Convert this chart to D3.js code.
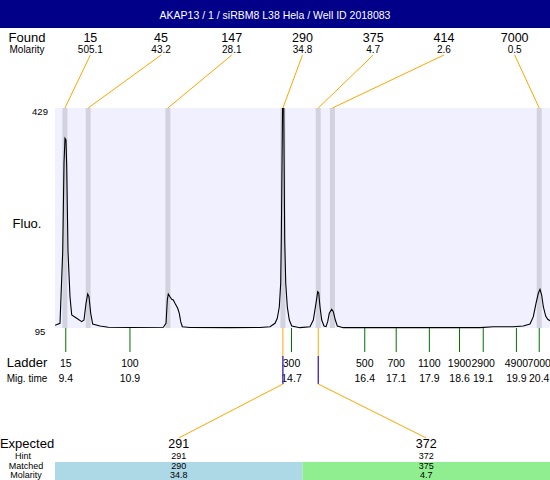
<!DOCTYPE html>
<html>
<head>
<meta charset="utf-8">
<script src="https://cdn.jsdelivr.net/npm/d3@7"></script>
<style>
  body { margin: 0; background: #fff; }
  svg { display: block; font-family: "Liberation Sans", Arial, sans-serif; }
</style>
</head>
<body>
<svg width="550" height="480"></svg>
<script>
var title = "AKAP13 / 1 / siRBM8 L38 Hela / Well ID 2018083";

// found peaks
var foundSize = [15, 45, 147, 290, 375, 414, 7000];
var foundMolarity = [505.1, 43.2, 28.1, 34.8, 4.7, 2.6, 0.5];
var foundTime = [9.40, 9.94, 11.79, 14.46, 15.28, 15.61, 20.41];

// ladder
var ladderSize = [15, 100, 300, 500, 700, 1100, 1900, 2900, 4900, 7000];
var ladderTime = [9.42, 10.91, 14.66, 16.36, 17.09, 17.86, 18.56, 19.11, 19.88, 20.41];

// expected / matched
var expectedSize = [291, 372];
var hintSize = [291, 372];
var matchedSize = [290, 375];
var matchedMolarity = [34.8, 4.7];

var fluoRange = [95, 429];
var timeRange = [9.17, 20.66];

// electropherogram trace (mig. time, fluorescence)
var traceTime = [9.170, 9.286, 9.349, 9.379, 9.402, 9.425, 9.442, 9.472, 9.518, 9.558,
  9.674, 9.790, 9.843, 9.890, 9.929, 9.959, 9.999, 10.045, 10.215, 10.407,
  10.911, 11.684, 11.747, 11.777, 11.800, 11.839, 11.879, 11.916, 11.955, 12.018,
  12.055, 12.088, 12.125, 12.304, 13.232, 13.929, 14.161, 14.277, 14.330, 14.377,
  14.409, 14.423, 14.439, 14.456, 14.477, 14.486, 14.502, 14.526, 14.562, 14.609,
  14.665, 14.857, 15.089, 15.166, 15.228, 15.268, 15.291, 15.321, 15.361, 15.414,
  15.461, 15.500, 15.537, 15.593, 15.630, 15.677, 15.723, 15.862, 17.643, 19.036,
  19.344, 19.808, 20.040, 20.196, 20.273, 20.335, 20.389, 20.428, 20.467, 20.505,
  20.560, 20.607, 20.660];
var traceFluo = [99.1, 102.1, 210.8, 345.5, 383.0, 380.4, 339.9, 210.8, 142.5, 114.7,
  109.7, 104.6, 107.1, 132.5, 146.6, 142.5, 117.3, 101.1, 98.0, 96.1,
  95.8, 96.1, 102.1, 137.5, 146.6, 142.5, 138.6, 137.5, 132.5, 124.9,
  117.3, 104.6, 97.0, 95.8, 95.5, 95.8, 97.0, 102.1, 109.7, 127.3,
  162.9, 228.6, 339.9, 456.3, 456.3, 370.2, 228.6, 162.9, 127.3, 107.1,
  98.0, 95.5, 97.0, 107.1, 132.5, 150.1, 148.6, 127.3, 107.1, 98.0,
  97.0, 104.6, 117.3, 123.4, 119.7, 107.1, 98.0, 95.5, 95.5, 95.5,
  97.0, 97.0, 98.0, 101.1, 112.2, 132.5, 147.7, 153.8, 145.1, 127.3,
  113.2, 108.2, 106.1];

var svg = d3.select("svg"),
    width = +svg.attr("width"),
    height = +svg.attr("height");

var plotLeft = 55, plotTop = 108, plotBottom = 328;
var labelX = 27;
var orange = "#ffa500";

var x = d3.scaleLinear().domain(timeRange).range([plotLeft, width]);
var y = d3.scaleLinear().domain(fluoRange).range([plotBottom, plotTop]);
var col = d3.scaleBand().domain(d3.range(foundSize.length)).range([plotLeft, width]);
var ecol = d3.scaleBand().domain(d3.range(expectedSize.length)).range([plotLeft, width]);

function label(txt, xx, yy, size, anchor) {
  return svg.append("text")
    .attr("x", xx).attr("y", yy)
    .attr("text-anchor", anchor || "middle")
    .attr("font-size", size)
    .text(txt);
}

// title bar
svg.append("rect").attr("width", width).attr("height", 28).attr("fill", "#000088");
label(title, width / 2, 19, 10.5).attr("fill", "#fff");

// found row
label("Found", labelX, 41.5, 13);
label("Molarity", labelX, 52.5, 10);
foundSize.forEach(function(d, i) {
  var cx = col(i) + col.bandwidth() / 2;
  label(d, cx, 41.5, 12.5);
  label(foundMolarity[i], cx, 52.5, 10);
});

// plot background
svg.append("rect")
  .attr("x", plotLeft).attr("y", plotTop)
  .attr("width", width - plotLeft).attr("height", plotBottom - plotTop)
  .attr("fill", "#f0f0ff");

// peak bands
svg.append("g").selectAll("rect")
  .data(foundTime)
  .enter().append("rect")
  .attr("x", function(d) { return x(d) - 2.5; })
  .attr("y", plotTop)
  .attr("width", 5)
  .attr("height", plotBottom - plotTop)
  .attr("fill", "#d3d3e0");

// connectors found label -> band
svg.append("g").selectAll("line")
  .data(foundTime)
  .enter().append("line")
  .attr("x1", function(d, i) { return col(i) + col.bandwidth() / 2; })
  .attr("y1", 55)
  .attr("x2", function(d) { return x(d); })
  .attr("y2", plotTop)
  .attr("stroke", orange)
  .attr("stroke-width", 1);

// trace
svg.append("clipPath").attr("id", "clip")
  .append("rect")
  .attr("x", plotLeft).attr("y", plotTop)
  .attr("width", width - plotLeft).attr("height", plotBottom - plotTop + 2);

var line = d3.line()
  .x(function(d) { return x(d[0]); })
  .y(function(d) { return y(d[1]); });

svg.append("path")
  .datum(d3.zip(traceTime, traceFluo))
  .attr("clip-path", "url(#clip)")
  .attr("fill", "none")
  .attr("stroke", "#000")
  .attr("stroke-width", 1.1)
  .attr("d", line);

// y labels
label("Fluo.", labelX, 228, 13);
label(fluoRange[1], 40, 115, 9.5);
label(fluoRange[0], 40, 334.5, 9.5);

// ladder
svg.append("g").selectAll("line")
  .data(ladderTime)
  .enter().append("line")
  .attr("x1", function(d) { return x(d); })
  .attr("x2", function(d) { return x(d); })
  .attr("y1", plotBottom)
  .attr("y2", 352)
  .attr("stroke", "#007000");

label("Ladder", labelX, 367, 13);
label("Mig. time", labelX, 381.5, 10);
ladderSize.forEach(function(d, i) {
  label(d, x(ladderTime[i]), 367, 10.5);
  label(d3.format(".1f")(ladderTime[i]), x(ladderTime[i]), 381.5, 10.5);
});

// matched connectors
matchedSize.forEach(function(m, i) {
  var px = x(foundTime[foundSize.indexOf(m)]);
  var ex = ecol(i) + ecol.bandwidth() / 2;
  svg.append("line").attr("x1", px).attr("x2", px).attr("y1", plotBottom).attr("y2", 384)
    .attr("stroke", orange);
  svg.append("line").attr("x1", px).attr("x2", px).attr("y1", 356).attr("y2", 384)
    .attr("stroke", "#0000ff");
  svg.append("line").attr("x1", px).attr("y1", 384).attr("x2", ex).attr("y2", 438)
    .attr("stroke", orange);
});

// expected table
var boxColor = ["#add8e6", "#90ee90"];
expectedSize.forEach(function(d, i) {
  svg.append("rect")
    .attr("x", ecol(i)).attr("y", 462)
    .attr("width", ecol.bandwidth()).attr("height", height - 462)
    .attr("fill", boxColor[i]);
});

label("Expected", labelX, 448, 13);
label("Hint", labelX - 4, 458.5, 9);
label("Matched", labelX - 1, 468.5, 9);
label("Molarity", labelX - 1, 478.3, 9);
expectedSize.forEach(function(d, i) {
  var cx = ecol(i) + ecol.bandwidth() / 2;
  label(d, cx, 448, 12.5);
  label(hintSize[i], cx, 458.5, 9);
  label(matchedSize[i], cx, 468.5, 9);
  label(matchedMolarity[i], cx, 478.3, 9);
});
</script>
</body>
</html>
